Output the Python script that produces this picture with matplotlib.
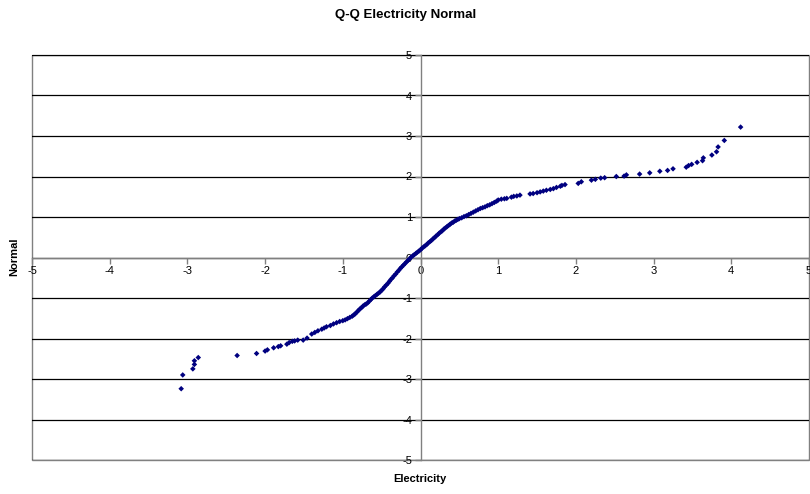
import matplotlib
matplotlib.use("Agg")
import matplotlib.pyplot as plt
from matplotlib.patches import Rectangle

plt.rcParams['font.family'] = ['Liberation Sans', 'DejaVu Sans']

title = "Q-Q Electricity Normal"
x_label = "Electricity"
y_label = "Normal"
ticks = [-5, -4, -3, -2, -1, 0, 1, 2, 3, 4, 5]

# lower tail
x_low = [-3.08, -3.06, -2.93, -2.91, -2.91, -2.86, -2.36, -2.11, -2.00, -1.97,
         -1.89, -1.83, -1.80, -1.72, -1.69, -1.65, -1.62, -1.58, -1.51, -1.46,
         -1.40, -1.36, -1.32, -1.27, -1.24, -1.21, -1.16, -1.12, -1.08, -1.04,
         -1.00, -0.97, -0.94, -0.91, -0.88]
y_low = [-3.24, -2.90, -2.75, -2.64, -2.55, -2.47, -2.42, -2.37, -2.31, -2.28,
         -2.23, -2.20, -2.18, -2.14, -2.10, -2.07, -2.06, -2.04, -2.04, -1.99,
         -1.89, -1.85, -1.81, -1.77, -1.74, -1.71, -1.68, -1.64, -1.61, -1.58,
         -1.56, -1.54, -1.51, -1.48, -1.45]

# dense middle
x_mid = [-0.86, -0.84, -0.82, -0.80, -0.78, -0.76, -0.74, -0.72, -0.70, -0.68,
         -0.66, -0.64, -0.62, -0.60, -0.58, -0.56, -0.54, -0.52, -0.50, -0.48,
         -0.46, -0.44, -0.42, -0.40, -0.38, -0.36, -0.34, -0.32, -0.30, -0.28,
         -0.26, -0.24, -0.22, -0.20, -0.18, -0.16, -0.14, -0.12, -0.10, -0.08,
         -0.06, -0.04, -0.02, 0.00, 0.02, 0.04, 0.06, 0.08, 0.10, 0.12,
         0.14, 0.16, 0.18, 0.20, 0.22, 0.24, 0.26, 0.28, 0.30, 0.32,
         0.34, 0.36, 0.38, 0.40, 0.42, 0.44, 0.46, 0.48, 0.50, 0.53,
         0.56, 0.59, 0.62, 0.65, 0.68, 0.71, 0.74, 0.77, 0.80, 0.83,
         0.86, 0.89, 0.92, 0.95, 0.98, 1.00]
y_mid = [-1.42, -1.39, -1.35, -1.31, -1.27, -1.24, -1.20, -1.17, -1.15, -1.12,
         -1.08, -1.04, -1.00, -0.97, -0.94, -0.91, -0.88, -0.85, -0.81, -0.77,
         -0.72, -0.68, -0.64, -0.59, -0.54, -0.50, -0.45, -0.41, -0.36, -0.32,
         -0.27, -0.23, -0.19, -0.15, -0.11, -0.07, -0.03, 0.01, 0.04, 0.07,
         0.10, 0.13, 0.16, 0.19, 0.23, 0.26, 0.29, 0.32, 0.36, 0.39,
         0.42, 0.46, 0.49, 0.53, 0.56, 0.60, 0.63, 0.66, 0.70, 0.73,
         0.76, 0.79, 0.82, 0.85, 0.87, 0.90, 0.92, 0.94, 0.96, 0.98,
         1.01, 1.03, 1.06, 1.09, 1.12, 1.15, 1.18, 1.21, 1.23, 1.25,
         1.28, 1.30, 1.33, 1.36, 1.39, 1.42]

# upper tail
x_up = [1.04, 1.08, 1.11, 1.17, 1.20, 1.24, 1.28, 1.41, 1.45, 1.50,
        1.54, 1.58, 1.62, 1.67, 1.71, 1.75, 1.80, 1.82, 1.86, 2.03,
        2.07, 2.20, 2.25, 2.32, 2.37, 2.52, 2.62, 2.65, 2.82, 2.95,
        3.08, 3.18, 3.25, 3.42, 3.45, 3.49, 3.56, 3.63, 3.64, 3.75,
        3.81, 3.83, 3.91, 4.12]
y_up = [1.44, 1.45, 1.46, 1.49, 1.51, 1.52, 1.54, 1.57, 1.58, 1.60,
        1.62, 1.64, 1.66, 1.68, 1.70, 1.73, 1.76, 1.78, 1.80, 1.83,
        1.87, 1.91, 1.93, 1.96, 1.97, 2.00, 2.01, 2.04, 2.06, 2.09,
        2.13, 2.15, 2.19, 2.23, 2.27, 2.30, 2.35, 2.39, 2.46, 2.53,
        2.61, 2.73, 2.89, 3.22]

fig = plt.figure(figsize=(8.10, 4.94), dpi=100)
ax = fig.add_axes([32/810, 1 - 460/494, 777/810, 405/494])

for y in ticks:
    ax.axhline(y, color='black', lw=0.9, zorder=1)

ax.scatter(x_low + x_mid + x_up, y_low + y_mid + y_up, marker='D', s=8,
           color='#000080', edgecolors='none', zorder=3)

ax.set_xlim(-5, 5)
ax.set_ylim(-5, 5)
ax.set_xticks(ticks)
ax.set_yticks(ticks)
ax.set_xticklabels([str(t) for t in ticks])
ax.set_yticklabels([str(t) for t in ticks])

for side in ['left', 'bottom']:
    ax.spines[side].set_position(('data', 0))
    ax.spines[side].set_color('#808080')
    ax.spines[side].set_linewidth(1.0)
    ax.spines[side].set_zorder(2)
for side in ['top', 'right']:
    ax.spines[side].set_visible(False)

ax.tick_params(axis='both', direction='out', length=4, width=1.0,
               color='#808080', labelsize=8, pad=2)

# plot area border
ax.add_patch(Rectangle((0, 0), 1, 1, transform=ax.transAxes, fill=False,
                       edgecolor='#808080', lw=1.0, zorder=0, clip_on=False))

fig.text(406/810, 1 - 15/494, title, ha='center', va='center',
         fontsize=9.5, fontweight='bold')
fig.text(420/810, 1 - 479/494, x_label, ha='center', va='center',
         fontsize=8, fontweight='bold')
fig.text(14/810, 1 - 257/494, y_label, ha='center', va='center',
         fontsize=8, fontweight='bold', rotation=90)

fig.savefig("out.png", dpi=100)
